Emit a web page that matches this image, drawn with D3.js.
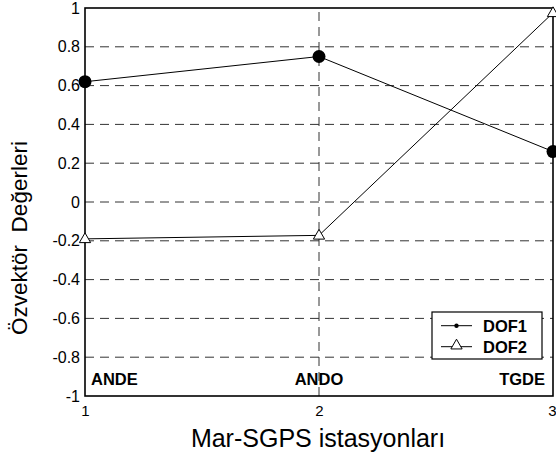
<!DOCTYPE html>
<html><head><meta charset="utf-8">
<script src="https://cdn.jsdelivr.net/npm/d3@7"></script>
<style>body{margin:0;background:#fff}</style>
</head><body>
<script>
const stations = ["ANDE", "ANDO", "TGDE"];
const xValues = [1, 2, 3];
const dof1 = [0.62, 0.75, 0.26];
const dof2 = [-0.19, -0.172, 0.975];
const yTicks = [-1, -0.8, -0.6, -0.4, -0.2, 0, 0.2, 0.4, 0.6, 0.8, 1];
const xTicks = [1, 2, 3];
const seriesNames = ["DOF1", "DOF2"];

const W = 556, H = 456;
const m = {l: 85, r: 3, t: 8, b: 60};
const FONT = "'Liberation Sans', Arial, Helvetica, sans-serif";
const svg = d3.select("body").append("svg").attr("width", W).attr("height", H)
  .style("font-family", FONT);
const x = d3.scaleLinear().domain([1, 3]).range([m.l, W - m.r]);
const y = d3.scaleLinear().domain([-1, 1]).range([H - m.b, m.t]);

// grid
svg.append("g").selectAll("line").data(yTicks.filter(v => v > -1 && v < 1)).join("line")
  .attr("x1", x(1)).attr("x2", x(3)).attr("y1", d => y(d)).attr("y2", d => y(d))
  .attr("stroke", "#333").attr("stroke-width", 1).attr("stroke-dasharray", "9,6");
svg.append("g").selectAll("line").data(xTicks.filter(v => v > 1 && v < 3)).join("line")
  .attr("x1", d => x(d)).attr("x2", d => x(d)).attr("y1", y(-1)).attr("y2", y(1))
  .attr("stroke", "#333").attr("stroke-width", 1).attr("stroke-dasharray", "9,6");

const fmt = d => d3.format("~g")(d).replace("\u2212", "-");
// axes labels
const yAxis = d3.axisLeft(y).tickValues(yTicks).tickSize(0).tickPadding(5).tickFormat(fmt);
const gy = svg.append("g").attr("transform", `translate(${m.l},0)`).call(yAxis);
gy.select(".domain").remove();
gy.selectAll("text").attr("font-size", 16).attr("fill", "#000").style("font-family", FONT);
const xAxis = d3.axisBottom(x).tickValues(xTicks).tickSize(0).tickPadding(9).tickFormat(fmt);
const gx = svg.append("g").attr("transform", `translate(0,${H - m.b})`).call(xAxis);
gx.select(".domain").remove();
gx.selectAll("text").attr("font-size", 15).attr("fill", "#000").style("font-family", FONT)
  .attr("text-anchor", d => d === 3 ? "end" : "middle")
  .attr("dx", d => d === 3 ? 3 : 0);

// frame
svg.append("rect").attr("x", x(1)).attr("y", y(1)).attr("width", x(3) - x(1)).attr("height", y(-1) - y(1))
  .attr("fill", "none").attr("stroke", "#000").attr("stroke-width", 1.6);

// lines
const line = d3.line().x((d, i) => x(xValues[i])).y(d => y(d));
svg.append("path").datum(dof1).attr("d", line).attr("fill", "none").attr("stroke", "#000").attr("stroke-width", 1);
svg.append("path").datum(dof2).attr("d", line).attr("fill", "none").attr("stroke", "#000").attr("stroke-width", 1);

// markers
svg.append("g").selectAll("circle").data(dof1).join("circle")
  .attr("cx", (d, i) => x(xValues[i])).attr("cy", d => y(d)).attr("r", 6.5).attr("fill", "#000");
const tri = d3.symbol().type(d3.symbolTriangle).size(55);
svg.append("g").selectAll("path").data(dof2).join("path")
  .attr("transform", (d, i) => `translate(${x(xValues[i])},${y(d) + 0.5})`)
  .attr("d", tri).attr("fill", "#fff").attr("stroke", "#000").attr("stroke-width", 1);

// station labels
svg.append("g").selectAll("text").data(stations).join("text")
  .attr("x", (d, i) => i === 0 ? x(xValues[i]) + 6 : i === 2 ? x(xValues[i]) - 8 : x(xValues[i]))
  .attr("y", y(-1) - 11)
  .attr("text-anchor", (d, i) => i === 0 ? "start" : i === 2 ? "end" : "middle")
  .attr("font-size", 16.5).attr("font-weight", "bold").text(d => d);

// titles
svg.append("text").attr("x", (x(1) + x(3)) / 2 - 1).attr("y", 447).attr("text-anchor", "middle")
  .attr("font-size", 25).text("Mar-SGPS istasyonları");
svg.append("text").attr("transform", `translate(27,238) rotate(-90)`).attr("text-anchor", "middle")
  .attr("font-size", 22.5).style("white-space", "pre").text("Özvektör  Değerleri");

// legend
const lg = svg.append("g").attr("transform", "translate(432,312)");
lg.append("rect").attr("width", 110).attr("height", 47).attr("fill", "#fff").attr("stroke", "#000").attr("stroke-width", 1.2);
seriesNames.forEach((n, i) => {
  const yy = 13.7 + i * 21;
  lg.append("line").attr("x1", 9).attr("x2", 40).attr("y1", yy).attr("y2", yy).attr("stroke", "#000");
  if (i === 0) lg.append("circle").attr("cx", 24.5).attr("cy", yy).attr("r", 2.2).attr("fill", "#000");
  else lg.append("path").attr("transform", `translate(24.5,${yy - 1})`).attr("d", d3.symbol().type(d3.symbolTriangle).size(55)).attr("fill", "#fff").attr("stroke", "#000");
  lg.append("text").attr("x", 51).attr("y", yy + 6).attr("font-size", 16.5).attr("font-weight", "bold").text(n);
});
</script>
</body></html>
